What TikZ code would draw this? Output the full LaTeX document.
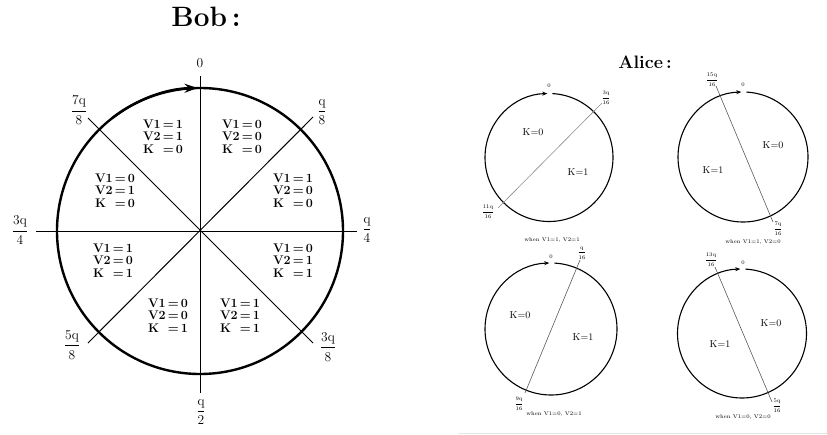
\documentclass[tikz,border=0pt]{standalone}
\usetikzlibrary{arrows.meta}
\newcommand{\vtab}[3]{\begin{tabular}{@{}l@{\,}c@{\,}l@{}}V1&=&#1\\V2&=&#2\\K&=&#3\end{tabular}}
\newcommand{\myfr}[2]{$\displaystyle\frac{\mbox{#1}}{\mbox{#2}}$}
\begin{document}
\begin{tikzpicture}[x=1pt,y=1pt,
  bobcirc/.style={line width=2.4pt},
  bobline/.style={line width=1pt},
  bobtxt/.style={font=\fontsize{12.5}{12.5}\selectfont\bfseries, inner sep=0pt},
  boblbl/.style={font=\fontsize{13.5}{13.5}\selectfont, inner sep=0pt},
  bigtitle/.style={font=\fontsize{28}{30}\selectfont\bfseries, inner sep=0pt},
  midtitle/.style={font=\fontsize{18}{20}\selectfont\bfseries, inner sep=0pt},
  alicecirc/.style={line width=1.1pt},
  aliceline/.style={line width=0.6pt, draw=black!65},
  klbl/.style={font=\fontsize{10}{10}\selectfont, inner sep=0pt},
  tinylbl/.style={font=\fontsize{5.5}{6}\selectfont, inner sep=0pt},
  caption/.style={font=\fontsize{5.5}{6}\selectfont, inner sep=0pt}
]
\useasboundingbox (0,0) rectangle (827,-434);

% ---------------- Bob ----------------
\node[bigtitle] (bobtitle) at (206,-17) {Bob\,:};
\coordinate (C) at (200,-231);
\draw[bobcirc] (C) circle[radius=143pt];
\draw[bobcirc, -{Stealth[length=13pt,width=9pt]}] (C) ++(128:143pt) arc[start angle=128, end angle=91, radius=143pt];

\coordinate (bt) at (200,-76);
\coordinate (bb) at (200,-393);
\coordinate (bl) at (36,-231);
\coordinate (br) at (357,-231);
\coordinate (bnw) at (88,-118);
\coordinate (bse) at (313,-343);
\coordinate (bne) at (313,-117);
\coordinate (bsw) at (88,-343);
\draw[bobline] (bt) -- (bb);
\draw[bobline] (bl) -- (br);
\draw[bobline] (bnw) -- (bse);
\draw[bobline] (bne) -- (bsw);

\node[boblbl] (l0) at (200,-63) {0};
\node[boblbl] (l1) at (322,-112) {\myfr{q}{8}};
\node[boblbl] (l7) at (79,-110) {\myfr{7q}{8}};
\node[boblbl] (l6) at (20,-230) {\myfr{3q}{4}};
\node[boblbl] (l2) at (367,-230) {\myfr{q}{4}};
\node[boblbl] (l5) at (72,-345) {\myfr{5q}{8}};
\node[boblbl] (l3) at (328,-347) {\myfr{3q}{8}};
\node[boblbl] (l4) at (201,-412) {\myfr{q}{2}};

\node[bobtxt] (r1) at (242,-138) {\vtab{0}{0}{0}};
\node[bobtxt] (r8) at (163,-138) {\vtab{1}{1}{0}};
\node[bobtxt] (r7) at (115,-192) {\vtab{0}{1}{0}};
\node[bobtxt] (r2) at (293,-192) {\vtab{1}{0}{0}};
\node[bobtxt] (r6) at (113,-262) {\vtab{1}{0}{1}};
\node[bobtxt] (r3) at (293,-262) {\vtab{0}{1}{1}};
\node[bobtxt] (r5) at (168,-317) {\vtab{0}{0}{1}};
\node[bobtxt] (r4) at (240,-317) {\vtab{1}{1}{1}};

% ---------------- Alice ----------------
\node[midtitle] (alicetitle) at (645,-62) {Alice\,:};

% circle 1
\coordinate (A1) at (549,-157.5);
\draw[alicecirc, -{Stealth[length=5pt,width=4pt]}] (A1) ++(87:64pt) arc[start angle=87, end angle=-268.5, radius=64pt];
\coordinate (a1s) at (602,-103);
\coordinate (a1e) at (498,-208);
\draw[aliceline, draw=black!45] (a1s) -- (a1e);
\node[tinylbl] (a1z) at (549,-86) {0};
\node[tinylbl] (a1p) at (606,-98) {\myfr{3q}{16}};
\node[tinylbl] (a1q) at (488,-212) {\myfr{11q}{16}};
\node[klbl] (a1k0) at (533,-132) {K=0};
\node[klbl] (a1k1) at (578,-172) {K=1};
\node[caption] (a1c) at (552,-240) {when V1=1, V2=1};

% circle 2
\coordinate (A2) at (743,-157);
\draw[alicecirc, -{Stealth[length=5pt,width=4pt]}] (A2) ++(87:65pt) arc[start angle=87, end angle=-268.5, radius=65pt];
\coordinate (a2s) at (716,-86);
\coordinate (a2e) at (773,-222);
\draw[aliceline] (a2s) -- (a2e);
\node[tinylbl] (a2z) at (743,-85) {0};
\node[tinylbl] (a2p) at (712,-80) {\myfr{15q}{16}};
\node[tinylbl] (a2q) at (778,-229) {\myfr{7q}{16}};
\node[klbl] (a2k0) at (773,-145) {K=0};
\node[klbl] (a2k1) at (713,-170) {K=1};
\node[caption] (a2c) at (753,-242) {when V1=1, V2=0};

% circle 3
\coordinate (A3) at (551,-329);
\draw[alicecirc, -{Stealth[length=5pt,width=4pt]}] (A3) ++(87:66pt) arc[start angle=87, end angle=-268.5, radius=66pt];
\coordinate (a3s) at (580,-260);
\coordinate (a3e) at (525,-393);
\draw[aliceline] (a3s) -- (a3e);
\node[tinylbl] (a3z) at (551,-257) {0};
\node[tinylbl] (a3p) at (582,-253) {\myfr{q}{16}};
\node[tinylbl] (a3q) at (519,-404) {\myfr{9q}{16}};
\node[klbl] (a3k0) at (520,-315) {K=0};
\node[klbl] (a3k1) at (583,-337) {K=1};
\node[caption] (a3c) at (554,-414) {when V1=0, V2=1};

% circle 4
\coordinate (A4) at (742,-333.5);
\draw[alicecirc, -{Stealth[length=5pt,width=4pt]}] (A4) ++(87:64.5pt) arc[start angle=87, end angle=-268.5, radius=64.5pt];
\coordinate (a4s) at (715,-267);
\coordinate (a4e) at (772,-402);
\draw[aliceline] (a4s) -- (a4e);
\node[tinylbl] (a4z) at (743,-263) {0};
\node[tinylbl] (a4p) at (711,-260) {\myfr{13q}{16}};
\node[tinylbl] (a4q) at (777,-406) {\myfr{5q}{16}};
\node[klbl] (a4k0) at (771,-323) {K=0};
\node[klbl] (a4k1) at (720,-344) {K=1};
\node[caption] (a4c) at (743,-417) {when V1=0, V2=0};

% faint rule at the bottom
\coordinate (g1) at (458,-433);
\coordinate (g2) at (827,-433);
\draw[black!10, line width=0.8pt] (g1) -- (g2);
\end{tikzpicture}
\end{document}
